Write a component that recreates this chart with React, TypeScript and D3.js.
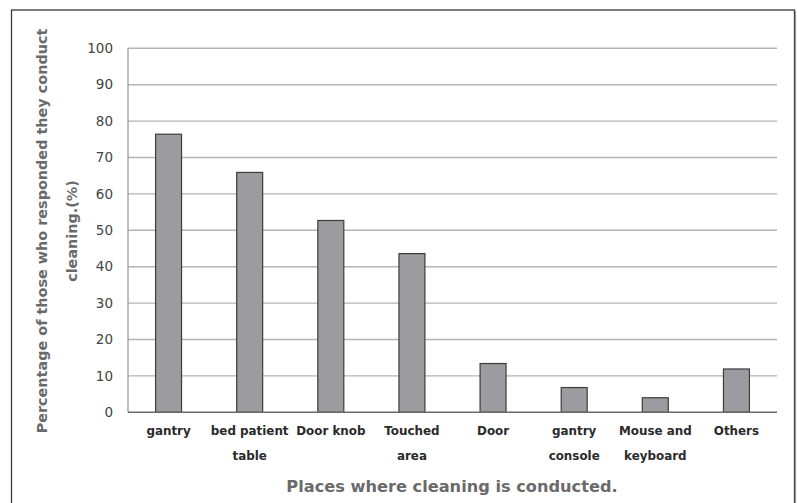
import React from "react";
import * as d3 from "d3";

const categories: string[][] = [
  ["gantry"],
  ["bed patient", "table"],
  ["Door knob"],
  ["Touched", "area"],
  ["Door"],
  ["gantry", "console"],
  ["Mouse and", "keyboard"],
  ["Others"],
];
const values: number[] = [76.4, 65.9, 52.7, 43.6, 13.4, 6.8, 4.0, 11.9];
const yTicks: number[] = [0, 10, 20, 30, 40, 50, 60, 70, 80, 90, 100];
const yTitle: string[] = ["Percentage of those who responded they conduct", "cleaning.(%)"];
const xTitle = "Places where cleaning is conducted.";

const W = 797;
const H = 503;
const plot = { left: 128, right: 777, top: 48.3, bottom: 412.3 };
const FONT = "'DejaVu Sans', Verdana, sans-serif";

export default function App() {
  const x = d3
    .scaleBand<number>()
    .domain(d3.range(categories.length))
    .range([plot.left, plot.right])
    .padding(0);
  const y = d3.scaleLinear().domain([0, 100]).range([plot.bottom, plot.top]);
  const barW = x.bandwidth() * 0.32;

  return (
    <svg
      width={W}
      height={H}
      style={{ position: "absolute", left: 0, top: 0, background: "#fff" }}
    >
      {/* outer frame */}
      <rect x={11.5} y={10} width={783} height={H + 10} fill="none" stroke="#3a3a3a" strokeWidth={1.3} />
      <line x1={795.5} y1={11} x2={795.5} y2={H} stroke="#9a9a9a" strokeWidth={1.2} />

      {/* horizontal gridlines */}
      {yTicks
        .filter((t) => t > 0)
        .map((t) => (
          <line
            key={t}
            x1={plot.left}
            x2={plot.right}
            y1={y(t)}
            y2={y(t)}
            stroke="#b4b4b4"
            strokeWidth={1.4}
          />
        ))}
      {/* vertical axis */}
      <line x1={plot.left} x2={plot.left} y1={plot.top} y2={plot.bottom} stroke="#9c9c9c" strokeWidth={1.3} />

      {/* bars */}
      {values.map((v, i) => {
        const cx = (x(i) as number) + x.bandwidth() / 2;
        return (
          <rect
            key={i}
            x={cx - barW / 2}
            y={y(v)}
            width={barW}
            height={y(0) - y(v)}
            fill="#9b9ba0"
            stroke="#3c3c3c"
            strokeWidth={1.2}
          />
        );
      })}

      {/* baseline */}
      <line x1={plot.left} x2={plot.right} y1={plot.bottom} y2={plot.bottom} stroke="#6a6a6a" strokeWidth={1.4} />

      {/* y tick labels */}
      {yTicks.map((t) => (
        <text
          key={t}
          x={113}
          y={y(t)}
          dy="0.35em"
          textAnchor="end"
          fontFamily={FONT}
          fontSize={13.5}
          fill="#444"
        >
          {t}
        </text>
      ))}

      {/* category labels */}
      {categories.map((lines, i) => {
        const cx = (x(i) as number) + x.bandwidth() / 2;
        return (
          <text
            key={i}
            textAnchor="middle"
            fontFamily={FONT}
            fontSize={11.9}
            fontWeight="bold"
            fill="#2a2a2a"
          >
            {lines.map((l, j) => (
              <tspan key={j} x={cx} y={431 + j * 25} dy="0.35em">
                {l}
              </tspan>
            ))}
          </text>
        );
      })}

      {/* x axis title */}
      <text
        x={452}
        y={486}
        dy="0.35em"
        textAnchor="middle"
        fontFamily={FONT}
        fontSize={16.2}
        fontWeight="bold"
        fill="#6a6a6a"
      >
        {xTitle}
      </text>

      {/* y axis title */}
      <g transform="translate(0,231) rotate(-90)">
        {yTitle.map((l, j) => (
          <text
            key={j}
            x={0}
            y={42 + j * 30}
            dy="0.35em"
            textAnchor="middle"
            fontFamily={FONT}
            fontSize={14.4}
            fontWeight="bold"
            fill="#6a6a6a"
          >
            {l}
          </text>
        ))}
      </g>
    </svg>
  );
}
